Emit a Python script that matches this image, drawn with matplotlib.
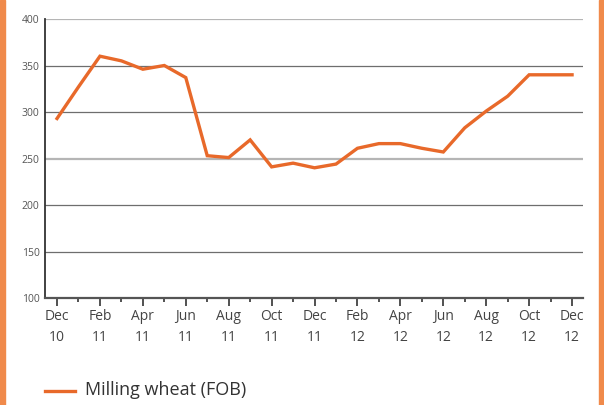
import numpy as np
import matplotlib
matplotlib.use("Agg")
import matplotlib.pyplot as plt
from matplotlib.patches import Rectangle
from matplotlib.lines import Line2D

# monthly milling wheat FOB prices, Dec 10 .. Dec 12
months = ["Dec\n10", "", "Feb\n11", "", "Apr\n11", "", "Jun\n11", "", "Aug\n11", "", "Oct\n11", "",
          "Dec\n11", "", "Feb\n12", "", "Apr\n12", "", "Jun\n12", "", "Aug\n12", "", "Oct\n12", "",
          "Dec\n12"]
prices = [293, 327, 360, 355, 346, 350, 337, 253, 251, 270, 241, 245,
          240, 244, 261, 266, 266, 261, 257, 283, 301, 317, 340, 340, 340]
y_ticks = [100, 150, 200, 250, 300, 350, 400]

line_color = "#e8692a"
border_color = "#f08a4b"

plt.rcParams['font.family'] = ['Open Sans', 'DejaVu Sans']

fig = plt.figure(figsize=(6.04, 4.05), dpi=100)
ax = fig.add_axes([45 / 604, 1 - 298 / 405, (583 - 45) / 604, (298 - 19) / 405])

# orange side borders
fig.patches.append(Rectangle((0, 0), 5 / 604, 1, transform=fig.transFigure, color=border_color))
fig.patches.append(Rectangle((1 - 5 / 604, 0), 5 / 604, 1, transform=fig.transFigure, color=border_color))

x = np.arange(len(prices))
ax.plot(x, prices, color=line_color, lw=2.4, solid_joinstyle="miter", zorder=3)

ax.set_ylim(100, 400)
ax.set_xlim(-0.56, 24.51)

for v in y_ticks[1:]:
    if v in (250, 400):
        ax.axhline(v, color="#b5b5b5", lw=1.6, zorder=1)
    else:
        ax.axhline(v, color="#6e6e6e", lw=0.9, zorder=1)

ax.set_yticks(y_ticks)
ax.set_yticklabels([str(v) for v in y_ticks], fontsize=7.5, color="#555555")
ax.tick_params(axis="y", length=0, pad=4)

ax.set_xticks(x[::2])
ax.set_xticklabels(months[::2], fontsize=10, color="#444444", linespacing=1.55)
ax.set_xticks(x[1::2], minor=True)
ax.tick_params(axis="x", which="major", length=6, width=1.2, color="#333333", pad=2)
ax.tick_params(axis="x", which="minor", length=3, width=1.2, color="#333333")

for s in ["top", "right"]:
    ax.spines[s].set_visible(False)
ax.spines["left"].set_color("#333333")
ax.spines["left"].set_linewidth(1.3)
ax.spines["bottom"].set_color("#555555")
ax.spines["bottom"].set_linewidth(1.6)

# legend drawn below the axes
fig.lines.append(Line2D([45 / 604, 75 / 604], [1 - 391 / 405, 1 - 391 / 405],
                        transform=fig.transFigure, color=line_color, lw=2.4))
fig.text(85 / 604, 1 - 390 / 405, "Milling wheat (FOB)", fontsize=13, color="#333333",
         va="center", ha="left")

fig.savefig("out.png", dpi=100)
